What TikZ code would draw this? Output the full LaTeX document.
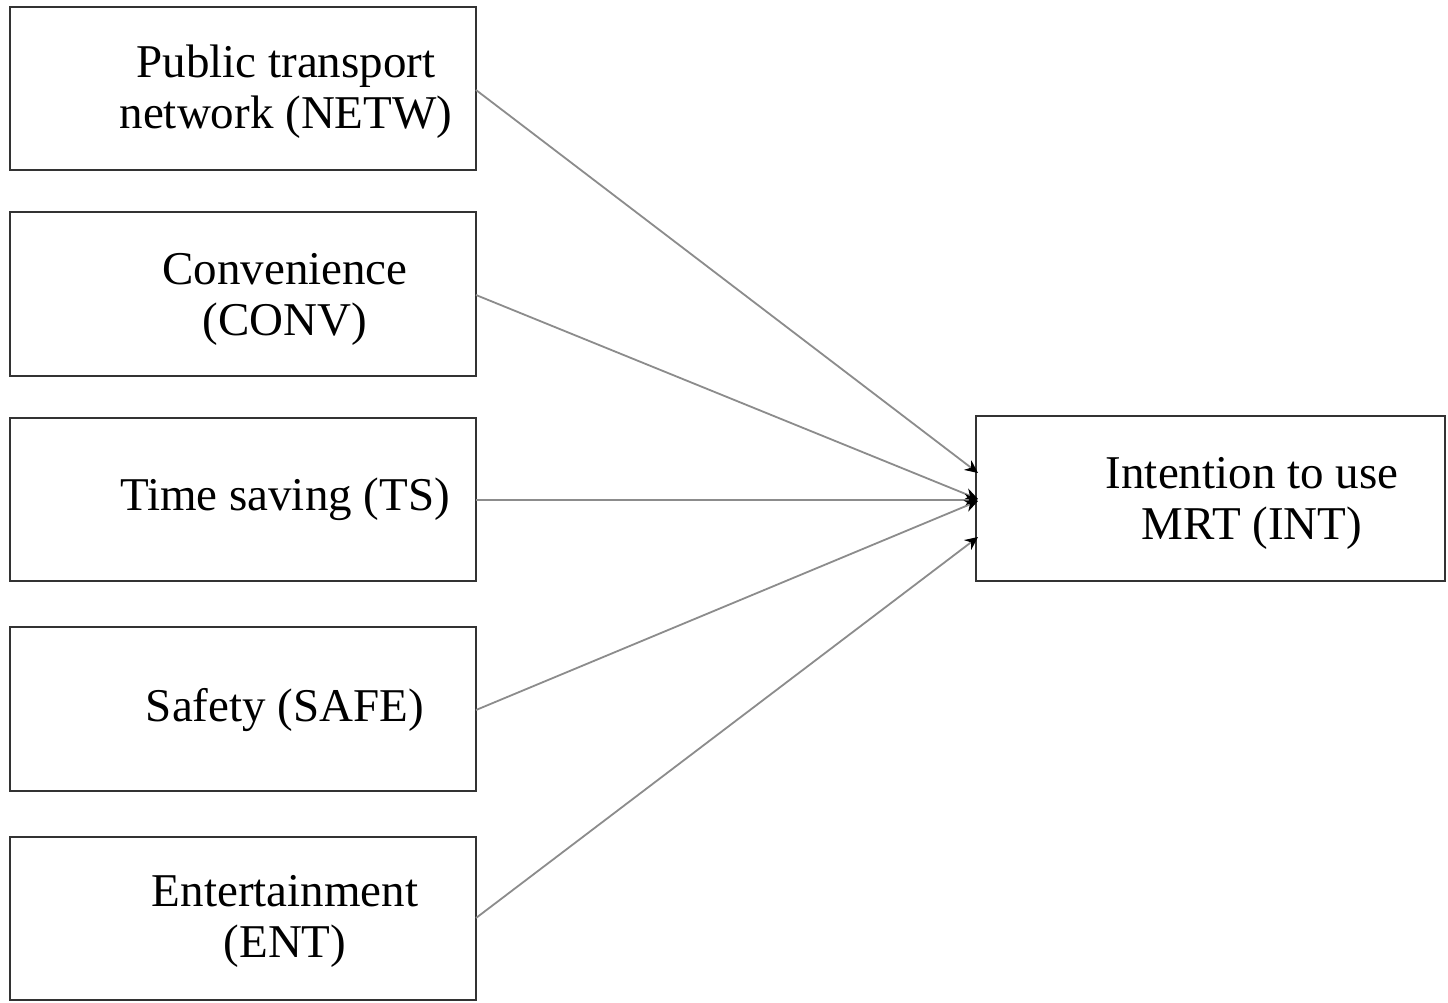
\documentclass[tikz,border=0pt]{standalone}
\usepackage{fontspec}
\setmainfont{Liberation Serif}
\usetikzlibrary{arrows.meta}
\definecolor{boxc}{HTML}{333333}
\definecolor{linec}{HTML}{8C8C8C}
\begin{document}
\begin{tikzpicture}[x=1pt,y=-1pt,
  box/.style={draw=boxc,line width=2.8pt,fill=none},
  lbl/.style={font=\fontsize{47}{51}\selectfont,align=center,inner sep=0pt,text=black},
  conn/.style={draw=linec,line width=1.8pt,-{Stealth[length=13pt,width=12pt,color=black]}}]
\useasboundingbox[fill=white] (0,0) rectangle (1448,1002);
% boxes
\draw[box] (10,7) rectangle (476,170);
\draw[box] (10,212) rectangle (476,376);
\draw[box] (10,418) rectangle (476,581);
\draw[box] (10,627) rectangle (476,791);
\draw[box] (10,837) rectangle (476,1000);
\draw[box] (976,416) rectangle (1445,581);
% labels
\node[lbl] (netw) at (286,92) {Public transport\\network (NETW)};
\node[lbl] (conv) at (285,299) {Convenience\\(CONV)};
\node[lbl] (ts) at (285,499) {Time saving (TS)};
\node[lbl] (safe) at (285,710) {Safety (SAFE)};
\node[lbl] (ent) at (285,921) {Entertainment\\(ENT)};
\node[lbl] (int) at (1252,503) {Intention to use\\MRT (INT)};
% connection points
\coordinate (s1) at (476,90);
\coordinate (s2) at (476,295);
\coordinate (s3) at (476,500);
\coordinate (s4) at (476,710);
\coordinate (s5) at (476,918);
\coordinate (e1) at (978,473);
\coordinate (e2) at (978,499);
\coordinate (e3) at (978,500);
\coordinate (e4) at (978,501);
\coordinate (e5) at (978,537);
\draw[conn] (s1) -- (e1);
\draw[conn] (s2) -- (e2);
\draw[conn] (s3) -- (e3);
\draw[conn] (s4) -- (e4);
\draw[conn] (s5) -- (e5);
\end{tikzpicture}
\end{document}
